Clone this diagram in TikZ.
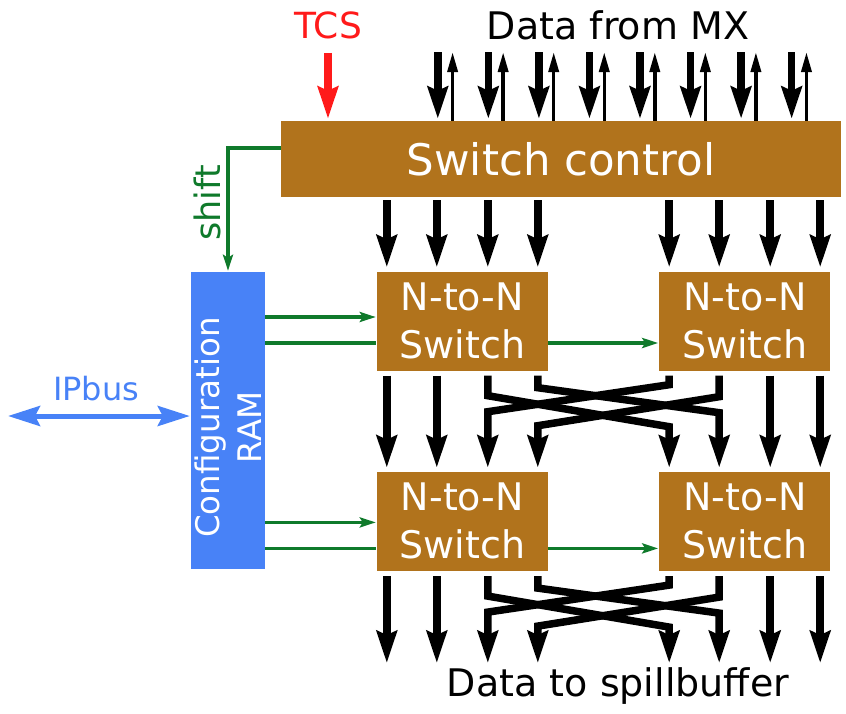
\documentclass[tikz,border=0pt]{standalone}
\usepackage{fontspec}
\setmainfont{DejaVu Sans}
\usetikzlibrary{arrows.meta, positioning}

\definecolor{ctrlbrown}{HTML}{B1731C}
\definecolor{ramblue}{HTML}{4882F7}
\definecolor{cfggreen}{HTML}{0F7A2B}
\definecolor{tcsred}{HTML}{FF1A1A}

\begin{document}
\begin{tikzpicture}[
    x=1pt, y=-1pt,
    brownbox/.style={rectangle, fill=ctrlbrown, text=white, inner sep=0pt, align=center},
    ctrlnode/.style={brownbox, minimum width=560pt, minimum height=76pt, font=\fontsize{43.5}{50}\selectfont},
    nswitch/.style={brownbox, minimum width=171pt, minimum height=99pt, font=\fontsize{38}{48}\selectfont},
    ramnode/.style={rectangle, fill=ramblue, text=white, inner sep=0pt, align=center, rotate=90, minimum width=297pt, minimum height=74pt, font=\fontsize{32.5}{42}\selectfont},
    txt/.style={inner sep=0pt, font=\fontsize{38}{44}\selectfont},
    bus/.style={-{Stealth[length=32pt, width=20pt, inset=4pt]}, line width=7.5pt, line join=miter, shorten <=5pt, shorten >=4pt},
    ret/.style={-{Triangle[length=20pt, width=10pt]}, line width=3.5pt},
    ctl/.style={-{Stealth[length=16pt, width=10pt, inset=3pt]}, line width=3.5pt, draw=cfggreen, shorten >=1pt},
    ipbus/.style={{Stealth[length=32pt, width=20pt, inset=5pt]}-{Stealth[length=32pt, width=20pt, inset=5pt]}, line width=5pt, draw=ramblue}
]
\useasboundingbox (0,0) rectangle (846,713);

% blocks
\node[ctrlnode] (ctrl) at (561,159) {Switch control};
\node[nswitch] (nl1) at (462.5,321) {N-to-N\\Switch};
\node[nswitch, right=111pt of nl1] (nr1) {N-to-N\\Switch};
\node[nswitch, below=101pt of nl1] (nl2) {N-to-N\\Switch};
\node[nswitch, right=111pt of nl2] (nr2) {N-to-N\\Switch};
% rotated: east is the top side, south the right side
\node[ramnode] (ram) at (228,420.5) {Configuration\hspace*{14pt}\\RAM\hspace*{14pt}};

% texts
\node[txt, text=tcsred, font=\fontsize{36}{40}\selectfont] (tcs) at (328,25) {TCS};
\node[txt] (mxin) at (618,25) {Data from MX};
\node[txt] (spill) at (618,686) {Data to spillbuffer};
\node[txt, text=ramblue, font=\fontsize{32}{36}\selectfont] (ipb) at (96,389) {IPbus};
\node[txt, text=cfggreen, rotate=90, font=\fontsize{35}{40}\selectfont] (shiftlbl) at (207,203) {shift};

% inputs
\draw[bus, draw=tcsred, shorten <=14pt, shorten >=2pt] (tcs.south) -- (tcs.south |- ctrl.north);
\foreach \i in {0,...,7} {
  \coordinate (mxd\i) at (437.8+50.55*\i, 52);
  \coordinate (mxu\i) at (452.6+50.55*\i, 52);
  \draw[bus, shorten <=0pt, shorten >=2pt] (mxd\i) -- (mxd\i |- ctrl.north);
  \draw[ret] (mxu\i |- ctrl.north) -- (mxu\i);
}

% switch control to first stage
\foreach \b in {nl1,nr1}
  \foreach \dx in {10,60,111,161} {
    \coordinate (tap) at ([xshift=\dx pt]\b.north west);
    \draw[bus, shorten <=3pt] (tap |- ctrl.south) -- (tap);
  }

% stage outputs
\coordinate (tl1) at (nl2.north west);
\coordinate (tr1) at (nr2.north west);
\coordinate (tl2) at ([yshift=-96pt]nl2.south west);
\coordinate (tr2) at ([yshift=-96pt]nr2.south west);
\foreach \s in {1,2} {
  \foreach \dx in {10,60}
    \draw[bus] ([xshift=\dx pt]nl\s.south west) -- ([xshift=\dx pt]tl\s);
  \foreach \dx in {111,161}
    \draw[bus] ([xshift=\dx pt]nr\s.south west) -- ([xshift=\dx pt]tr\s);
  \draw[bus] ([xshift=111pt]nl\s.south west) -- ++(0,25) -- ([xshift=10pt, yshift=-56pt]nr\s.south west) -- ([xshift=10pt]tr\s);
  \draw[bus] ([xshift=161pt]nl\s.south west) -- ++(0,17) -- ([xshift=60pt, yshift=-42pt]nr\s.south west) -- ([xshift=60pt]tr\s);
  \draw[bus] ([xshift=10pt]nr\s.south west) -- ++(0,14) -- ([xshift=111pt, yshift=-41pt]nl\s.south west) -- ([xshift=111pt]tl\s);
  \draw[bus] ([xshift=60pt]nr\s.south west) -- ++(0,26) -- ([xshift=161pt, yshift=-55pt]nl\s.south west) -- ([xshift=161pt]tl\s);
}

% configuration
\draw[ctl] ([yshift=11pt]ctrl.west) -| (ram.east);
\foreach \s/\da/\db in {1/4/-22, 2/-1/-27} {
  \coordinate (cfga) at ([yshift=\da pt]nl\s.west);
  \coordinate (cfgb) at ([yshift=\db pt]nl\s.west);
  \draw[ctl] (cfga -| ram.south) -- (cfga);
  \draw[ctl, -] (cfgb -| ram.south) -- (cfgb);
  \draw[ctl] (cfgb -| nl\s.east) -- (cfgb -| nr\s.west);
}

% IPbus
\coordinate (ipbl) at (8,416);
\draw[ipbus, shorten >=1pt] (ipbl) -- (ipbl -| ram.north);
\end{tikzpicture}
\end{document}
